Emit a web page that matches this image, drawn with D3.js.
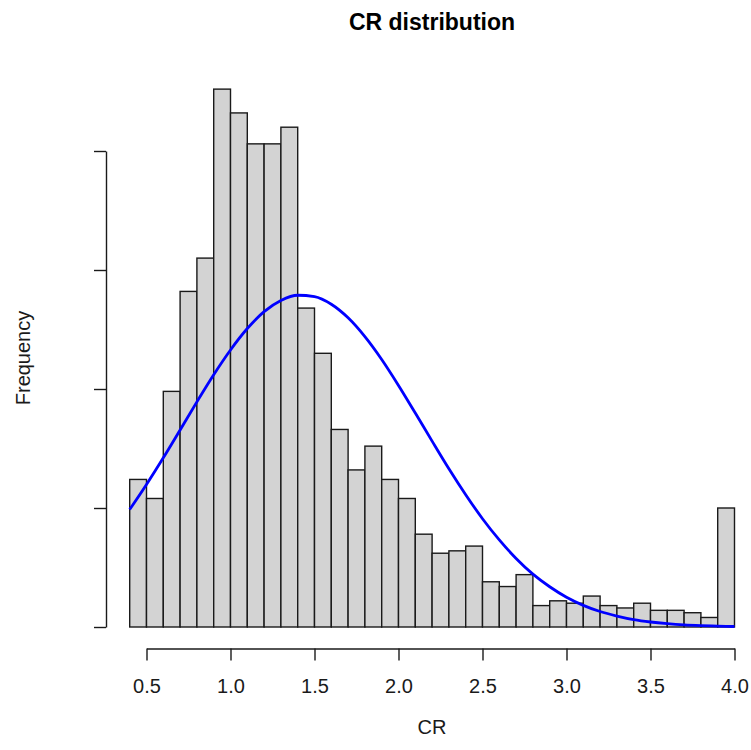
<!DOCTYPE html>
<html>
<head>
<meta charset="utf-8">
<script src="https://cdn.jsdelivr.net/npm/d3@7"></script>
<style>
    body { margin: 0; background: white; }
    text { font-family: "Liberation Sans", Arial, sans-serif; }
</style>
</head>
<body>
<div class="chartDiv"></div>
<script>
// histogram bins (left edge of each bin, width 0.1)
var binStarts = [0.4, 0.5, 0.6, 0.7, 0.8, 0.9, 1.0, 1.1, 1.2, 1.3, 1.4, 1.5, 1.6, 1.7, 1.8, 1.9,
    2.0, 2.1, 2.2, 2.3, 2.4, 2.5, 2.6, 2.7, 2.8, 2.9, 3.0, 3.1, 3.2, 3.3, 3.4, 3.5, 3.6, 3.7, 3.8, 3.9];
var binCounts = [62, 54, 99, 141, 155, 226, 216, 203, 203, 210, 134, 115, 83, 66, 76, 62,
    54, 39, 31, 32, 34, 19, 17, 22, 9, 11, 10, 13, 9, 8, 10, 7, 7, 6, 4, 50];
var binWidth = 0.1;

// fitted curve
var curveX = [0.4, 0.5, 0.6, 0.7, 0.8, 0.9, 1.0, 1.1, 1.2, 1.3, 1.4, 1.5, 1.6, 1.7, 1.8, 1.9,
    2.0, 2.1, 2.2, 2.3, 2.4, 2.5, 2.6, 2.7, 2.8, 2.9, 3.0, 3.1, 3.2, 3.3, 3.4, 3.5, 3.6, 3.7, 3.8, 3.9, 4.0];
var curveY = [49.4, 59.9, 71.1, 82.8, 94.6, 106.0, 116.4, 125.4, 132.5, 137.2, 139.4, 138.8, 135.6, 129.9, 122.0, 112.4,
    101.5, 89.9, 78.1, 66.5, 55.6, 45.5, 36.6, 28.8, 22.2, 16.9, 12.5, 9.1, 6.5, 4.6, 3.1, 2.1, 1.4, 0.9, 0.6, 0.4, 0.2];

var xTicks = [0.5, 1.0, 1.5, 2.0, 2.5, 3.0, 3.5, 4.0];
var yTicks = [0, 50, 100, 150, 200];

var width = 751;
var height = 750;

var svg = d3.select(".chartDiv").append("svg")
    .attr("width", width)
    .attr("height", height);

var x = d3.scaleLinear().domain([0.5, 4.0]).range([146.5, 734.5]);
var y = d3.scaleLinear().domain([0, 200]).range([627, 151]);

// bars
svg.append("g")
    .selectAll("rect")
    .data(binStarts)
    .enter().append("rect")
    .attr("x", function(d) { return x(d); })
    .attr("y", function(d, i) { return y(binCounts[i]); })
    .attr("width", function(d) { return x(d + binWidth) - x(d); })
    .attr("height", function(d, i) { return y(0) - y(binCounts[i]); })
    .attr("fill", "#d3d3d3")
    .attr("stroke", "#1a1a1a")
    .attr("stroke-width", 1.4);

// curve
var line = d3.line()
    .x(function(d, i) { return x(d); })
    .y(function(d, i) { return y(curveY[i]); })
    .curve(d3.curveMonotoneX);

svg.append("path")
    .datum(curveX)
    .attr("d", line)
    .attr("fill", "none")
    .attr("stroke", "#0000ff")
    .attr("stroke-width", 2.8);

// x axis
var xAxis = svg.append("g")
    .attr("transform", "translate(0, 648.5)")
    .call(d3.axisBottom(x)
        .tickValues(xTicks)
        .tickFormat(d3.format(".1f"))
        .tickSize(12)
        .tickSizeOuter(0)
        .tickPadding(18));

// y axis, ticks only
var yAxis = svg.append("g")
    .attr("transform", "translate(106, 0)")
    .call(d3.axisLeft(y)
        .tickValues(yTicks)
        .tickFormat("")
        .tickSize(12)
        .tickSizeOuter(0));

svg.selectAll(".domain, .tick line")
    .attr("stroke", "#1a1a1a")
    .attr("stroke-width", 1.4);

svg.selectAll(".tick text")
    .attr("fill", "#1a1a1a")
    .style("font-size", "20px")
    .style("font-family", "Liberation Sans, Arial, sans-serif");

// title
svg.append("text")
    .attr("x", 432)
    .attr("y", 30)
    .attr("text-anchor", "middle")
    .style("font-size", "23px")
    .style("font-weight", "bold")
    .text("CR distribution");

// x label
svg.append("text")
    .attr("x", 432)
    .attr("y", 734)
    .attr("text-anchor", "middle")
    .attr("fill", "#1a1a1a")
    .style("font-size", "20px")
    .text("CR");

// y label
svg.append("text")
    .attr("transform", "translate(30, 358) rotate(-90)")
    .attr("text-anchor", "middle")
    .attr("fill", "#1a1a1a")
    .style("font-size", "20px")
    .text("Frequency");
</script>
</body>
</html>
